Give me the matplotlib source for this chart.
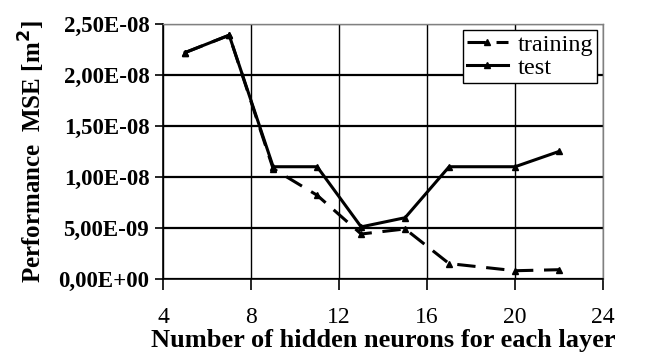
import matplotlib.pyplot as plt
from matplotlib.ticker import FuncFormatter

neurons = [5, 7, 9, 11, 13, 15, 17, 20, 22]
training = [2.22e-8, 2.39e-8, 1.08e-8, 8.2e-9, 4.4e-9, 4.9e-9, 1.5e-9, 0.8e-9, 0.9e-9]
test = [2.22e-8, 2.39e-8, 1.10e-8, 1.10e-8, 5.1e-9, 6.0e-9, 1.10e-8, 1.10e-8, 1.25e-8]

plt.rcParams['font.family'] = ['Liberation Serif', 'DejaVu Serif']

fig = plt.figure(figsize=(6.45, 3.58), dpi=100)
ax = fig.add_axes([0.253, 0.221, 0.682, 0.712])

ax.plot(neurons, training, color='black', lw=2.2, dashes=(6, 3.5),
        marker='^', ms=4, label='training', zorder=3)
ax.plot(neurons, test, color='black', lw=2.2, marker='^', ms=4,
        label='test', zorder=4)

ax.set_xlim(4, 24)
ax.set_ylim(0, 2.5e-8)
ax.set_xticks([4, 8, 12, 16, 20, 24])
ax.set_yticks([0, 5e-9, 1e-8, 1.5e-8, 2e-8, 2.5e-8])
ax.yaxis.set_major_formatter(FuncFormatter(lambda v, p: f"{v:.2E}".replace('.', ',')))

ax.grid(axis='y', color='black', lw=1.6)
ax.grid(axis='x', color='black', lw=1.0)
ax.set_axisbelow(True)

for side in ['top', 'right']:
    ax.spines[side].set_color('#808080')
    ax.spines[side].set_linewidth(1.0)
for side in ['left', 'bottom']:
    ax.spines[side].set_color('black')
    ax.spines[side].set_linewidth(1.2)

ax.tick_params(axis='x', direction='out', length=8, width=1.2, pad=12, labelsize=17)
ax.tick_params(axis='y', direction='out', length=6, width=1.2, pad=4, labelsize=16.5)
for t in ax.get_yticklabels():
    t.set_fontweight('bold')

ax.set_xlabel('Number of hidden neurons for each layer', fontsize=19,
              fontweight='bold', labelpad=1)
ax.set_ylabel('Performance  MSE [m$^\\mathbf{2}$]', fontsize=18,
              fontweight='bold', labelpad=8)

leg = ax.legend(loc='upper right', fontsize=17.5, frameon=True, fancybox=False,
                edgecolor='black', framealpha=1, handlelength=1.7,
                handletextpad=0.4, borderpad=0.15, labelspacing=0.05,
                borderaxespad=0.25)
leg.get_frame().set_linewidth(1.0)

fig.savefig('out.png', dpi=100)
